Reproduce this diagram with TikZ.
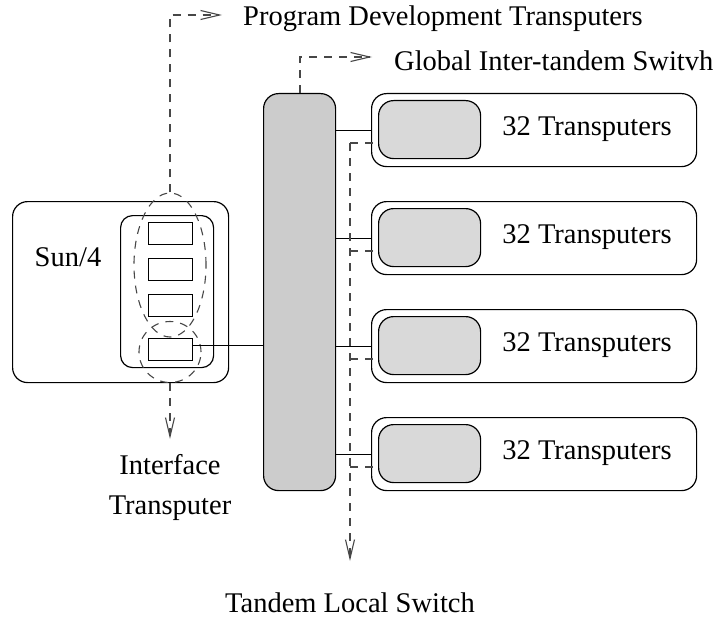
\documentclass[tikz,border=0pt]{standalone}
\usepackage{fontspec}
\setmainfont{Liberation Serif}
\usetikzlibrary{shapes.geometric,arrows.meta}
\begin{document}
\begin{tikzpicture}[x=1pt,y=-1pt,
  every node/.style={font=\fontsize{28.5}{40}\selectfont},
  rbox/.style={draw,line width=1.2pt,rounded corners=15pt,inner sep=0pt,anchor=north west},
  smallrect/.style={draw,line width=1.2pt,inner sep=0pt,anchor=north west,minimum width=44pt,minimum height=22pt},
  dsh/.style={draw=black!72,line width=1.1pt,dash pattern=on 8pt off 7pt},
  oval/.style={ellipse,dsh,inner sep=0pt},
  tip/.style={-{Straight Barb[length=19pt,width=9pt,line width=1.1pt]}},
  lbl/.style={inner sep=0pt}]
\useasboundingbox (0,0) rectangle (718,618);
% Sun/4 workstation
\node[rbox,minimum width=216pt,minimum height=181pt] (sun) at (12,201) {};
\node[lbl] (sunl) at (68,257) {Sun/4};
\node[rbox,rounded corners=12pt,minimum width=93pt,minimum height=152pt] (inner) at (120,215) {};
\node[smallrect] (r1) at (148,222) {};
\node[smallrect] (r2) at (148,258) {};
\node[smallrect] (r3) at (148,294) {};
\node[smallrect] (r4) at (148,338) {};
\node[oval,minimum width=72pt,minimum height=144pt] (e1) at (170,265) {};
\node[oval,minimum width=62pt,minimum height=61pt] (e2) at (170,352) {};
% switch
\node[rbox,fill=black!20,minimum width=72pt,minimum height=397pt] (sw) at (263,93) {};
% transputer boxes
\foreach \k in {0,1,2,3}{
  \node[rbox,minimum width=325pt,minimum height=73pt] (b\k) at (371,93+108*\k) {};
  \node[rbox,fill=black!15,minimum width=102pt,minimum height=58pt] (i\k) at (378,100+108*\k) {};
  \node[lbl] (t\k) at (587,129.5+108*\k) {32 Transputers};
  \coordinate (d\k) at (350,143+108*\k);
  \draw[line width=1.2pt] (b\k.west -| sw.east) -- (b\k.west);
  \draw[dsh] (d\k) -- (d\k -| i\k.west);
}
% labels
\node[lbl,anchor=west] (pdt) at (243,19) {Program Development Transputers};
\node[lbl,anchor=west] (gis) at (394,61) {Global Inter-tandem Switvh};
\node[lbl,align=center] (ift) at (170,487) {Interface\\Transputer};
\node[lbl] (tls) at (350,603) {Tandem Local Switch};
\coordinate (pa) at (170,15);
\coordinate (pe) at (222,15);
\coordinate (ga) at (300,57);
\coordinate (ge) at (372,57);
\coordinate (ia) at (170,439);
\coordinate (ta) at (350,561);
% connectors
\draw[line width=1.2pt] ([yshift=4pt]r4.east) -- ([yshift=4pt]r4.east -| sw.west);
\draw[dsh,tip] (e1.north) -- (pa) -- (pe);
\draw[dsh,tip] (sw.north -| ga) -- (ga) -- (ge);
\draw[dsh,tip] (e2.south) -- (ia);
\draw[dsh,tip] (d0) -- (ta);
\end{tikzpicture}
\end{document}
